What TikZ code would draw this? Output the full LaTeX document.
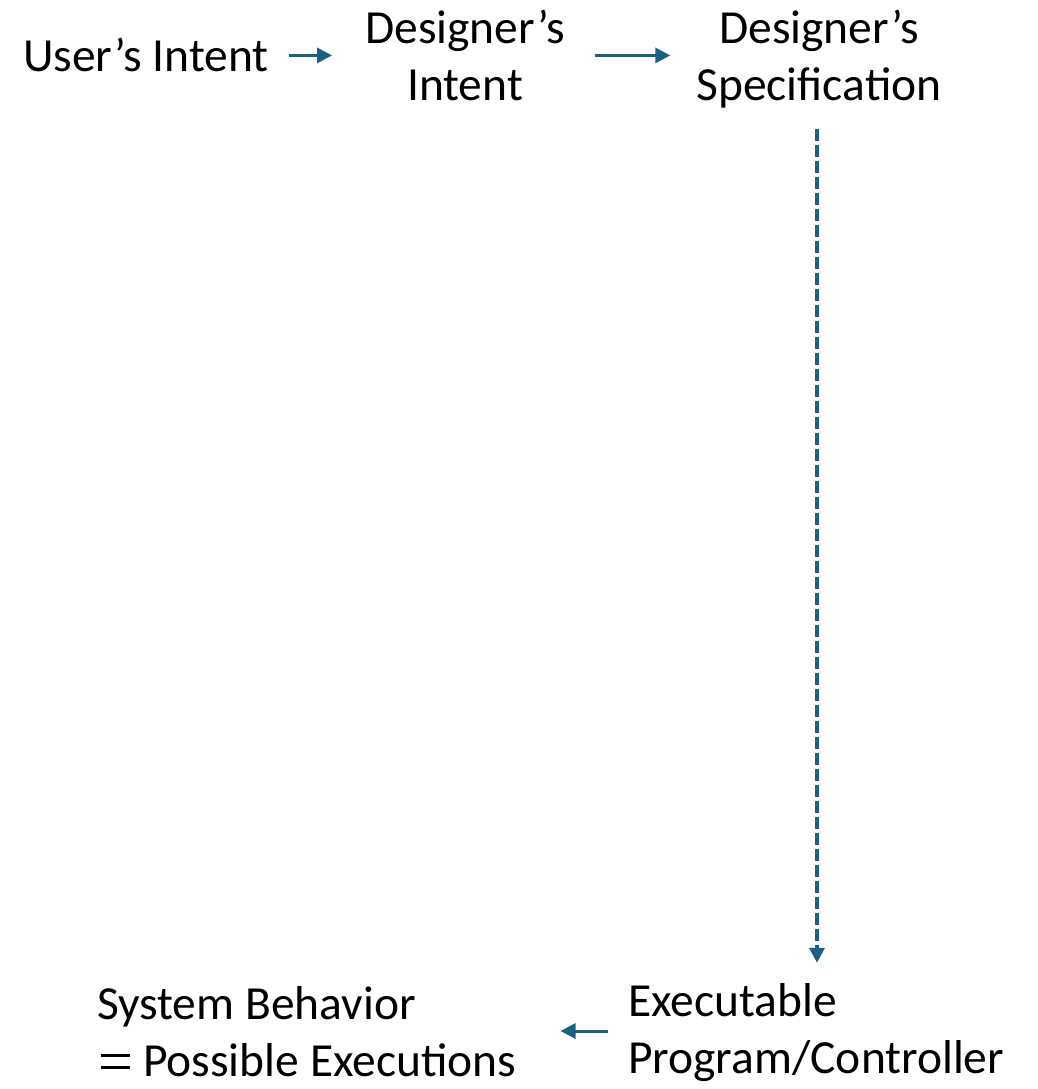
\documentclass[tikz,border=0pt]{standalone}
\usepackage{fontspec}
\setmainfont{Carlito}
\usetikzlibrary{arrows.meta,calc}
\definecolor{flow}{HTML}{1B5F85}
% wide equals sign built from two rules
\newcommand\wideeq{\kern4pt\rlap{\rule[7pt]{29pt}{2.6pt}}\rule[19pt]{29pt}{2.6pt}\kern13pt}
\begin{document}
\begin{tikzpicture}[x=1pt,y=-1pt,
  label/.style={inner sep=0pt, font=\fontsize{47.5}{57}\selectfont},
  flowarrow/.style={draw=flow, line width=3pt, -{Triangle[length=15pt,width=15pt]}},
  dashflow/.style={flowarrow, line width=3.6pt, dash pattern=on 12pt off 4pt,
    -{Triangle[length=15pt,width=15pt]}}]
\useasboundingbox (0,0) rectangle (1038,1089);
% multi-line labels are anchored at the baseline of their last line
\node[label, anchor=base] (user) at (146,72) {User’s Intent};
\node[label, align=center, anchor=base] (dint) at (465,101) {Designer’s\\Intent};
\node[label, align=center, anchor=base] (spec) at (819,101) {Designer’s\\Specification};
\node[label, align=left, anchor=base west] (exe) at (628,1073) {Executable\\Program/Controller};
\node[label, align=left, anchor=base west] (sys) at (97,1076) {System Behavior\\\wideeq Possible Executions};
\draw[flowarrow, shorten <=20pt, shorten >=33pt] (user.east) -- (dint.west |- user.east);
\draw[flowarrow, shorten <=30pt, shorten >=26pt] (dint.east |- user.east) -- (spec.west |- user.east);
\draw[dashflow] ($(spec.south)+(-2,20)$) -- ($(spec.south |- exe.north)+(-2,-20)$);
\draw[flowarrow] ($(exe.west |- 0,1031)+(-20,0)$) -- ($(sys.east |- 0,1031)+(44,0)$);
\end{tikzpicture}
\end{document}
